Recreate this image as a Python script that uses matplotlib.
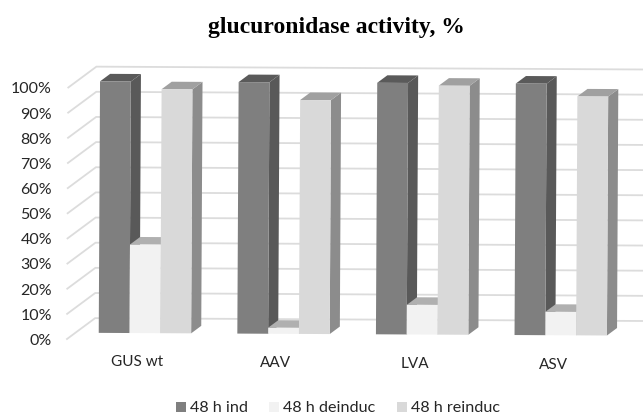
import matplotlib
matplotlib.use('Agg')
import matplotlib.pyplot as plt
from matplotlib.patches import Polygon, Rectangle

categories = ['GUS wt', 'AAV', 'LVA', 'ASV']
series_names = ['48 h ind', '48 h deinduc', '48 h reinduc']
ind = [100, 100, 100, 100]
deinduc = [35.2, 2.4, 11.8, 9.3]
reinduc = [97, 93, 99, 95]
tick_values = [0, 10, 20, 30, 40, 50, 60, 70, 80, 90, 100]

# front, side, top colours per series
front_cols = ['#7f7f7f', '#f2f2f2', '#d9d9d9']
side_cols = ['#595959', '#bdbdbd', '#8c8c8c']
top_cols = ['#5a5a5a', '#b0b0b0', '#a0a0a0']

TILT = 0.0052     # the source image is very slightly rotated
PX_PER_PCT = 2.515


def proj(x, pct, d=0.0):
    """x along the front plane, pct height, d depth (0 front wall, 1 back wall)"""
    px = x + 28 * d
    py = 339 - PX_PER_PCT * pct - 21 * d
    return px + TILT * (339 - py), py + TILT * (px - 67)


def box(ax, x0, x1, value, cols):
    d0, d1 = 0.30, 0.66
    ax.add_patch(Polygon([proj(x1, 0, d0), proj(x1, 0, d1), proj(x1, value, d1), proj(x1, value, d0)],
                         fc=cols[1], ec='none', zorder=3))
    ax.add_patch(Polygon([proj(x0, value, d0), proj(x0, value, d1), proj(x1, value, d1), proj(x1, value, d0)],
                         fc=cols[2], ec='none', zorder=3))
    ax.add_patch(Polygon([proj(x0, 0, d0), proj(x1, 0, d0), proj(x1, value, d0), proj(x0, value, d0)],
                         fc=cols[0], ec='none', zorder=3))


def main():
    fig = plt.figure(figsize=(6.43, 4.16), dpi=100)
    ax = fig.add_axes([0, 0, 1, 1])
    ax.set_xlim(0, 643)
    ax.set_ylim(416, 0)
    ax.axis('off')
    font = 'Lato'

    # back wall grid
    for t in tick_values:
        x_pts, y_pts = zip(proj(67, t, 0), proj(67, t, 1), proj(640, t, 1))
        ax.plot(x_pts, y_pts, color='#dcdcdc', lw=1.3, zorder=1, solid_joinstyle='miter')
        lx, ly = proj(53, t, 0)
        ax.text(52, ly + 2, f'{t}%', ha='right', va='center', fontsize=11.5, color='#262626', family=font)

    # bars, left to right so later ones overlap the side faces
    for i, cat in enumerate(categories):
        for j, vals in enumerate([ind, deinduc, reinduc]):
            x0 = 90.3 + 138.6 * i + 30.8 * j
            box(ax, x0, x0 + 30.8, vals[i], (front_cols[j], side_cols[j], top_cols[j]))
        cx = 130 + 139 * i
        ax.text(cx + 7, 362 + 1 * i, cat, ha='center', va='center', fontsize=11, color='#262626', family=font)

    # legend
    square_x = [176, 269, 397]
    text_x = [190, 283, 411]
    for name, sx, tx, col in zip(series_names, square_x, text_x, front_cols):
        ax.add_patch(Rectangle((sx, 402), 10, 10, fc=col, ec='none'))
        ax.text(tx, 408, name, ha='left', va='center', fontsize=11.6, color='#262626', family=font)

    ax.text(336, 27, 'glucuronidase activity, %', ha='center', va='center', fontsize=17,
            fontweight='bold', family='Liberation Serif', color='black')

    fig.savefig('out.png', dpi=100)
    plt.close(fig)


if __name__ == '__main__':
    main()
